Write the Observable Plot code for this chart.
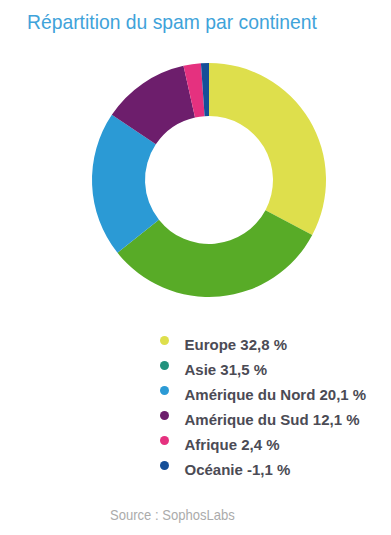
<!DOCTYPE html>
<html><head><meta charset="utf-8">
<script src="https://cdn.jsdelivr.net/npm/d3@7"></script>
<script src="https://cdn.jsdelivr.net/npm/@observablehq/plot@0.6"></script>
<style>
body{margin:0;background:#fff;}
#wrap{position:relative;width:391px;height:535px;overflow:hidden;font-family:"Liberation Sans",Arial,sans-serif;}
#title{position:absolute;left:27px;top:9px;font-size:21px;line-height:26px;color:#3fa3da;white-space:nowrap;transform:scaleX(0.92);transform-origin:0 0;}
#donut{position:absolute;left:0;top:55px;}
#legend{position:absolute;left:0;top:320px;}
#source{position:absolute;left:110px;top:506px;font-size:15px;line-height:18px;color:#ababab;white-space:nowrap;transform:scaleX(0.87);transform-origin:0 0;}
</style></head><body>
<div id="wrap">
<div id="title">Répartition du spam par continent</div>
<div id="donut"></div>
<div id="legend"></div>
<div id="source">Source : SophosLabs</div>
</div>
<script>
const continents = ["Europe","Asie","Amérique du Nord","Amérique du Sud","Afrique","Océanie"];
const shares = [32.8, 31.5, 20.1, 12.1, 2.4, -1.1];
const sliceColors = ["#dedf4c","#58ab27","#2b9ad5","#6d1e6c","#e5317f","#164f98"];
const legendColors = ["#dedf4c","#22927d","#2b9ad5","#6d1e6c","#e5317f","#164f98"];
const innerRatio = 0.547;

const rows = continents.map((c, i) => ({
  continent: c,
  share: shares[i],
  slice: sliceColors[i],
  key: legendColors[i],
  label: `${c} ${shares[i].toFixed(1).replace(".", ",")} %`
}));

const arcs = d3.pie().sort(null).value(d => Math.abs(d.share))(rows);

function donut(index, scales) {
  const cx = scales.x(0), cy = scales.y(0);
  const R = scales.x(1) - cx;
  const arc = d3.arc().innerRadius(R * innerRatio).outerRadius(R);
  const g = d3.create("svg:g").attr("transform", `translate(${cx},${cy})`);
  g.selectAll("path").data(arcs).join("path").attr("d", arc).attr("fill", d => d.data.slice);
  return g.node();
}

const donutPlot = Plot.plot({
  width: 391, height: 250,
  margin: 0,
  x: {domain: [-1, 1], range: [92, 326], axis: null},
  y: {domain: [-1, 1], range: [242, 8], axis: null},
  marks: [
    Plot.dot([{x: 0, y: 0}], {x: "x", y: "y", r: 0}),
    donut
  ]
});
document.getElementById("donut").append(donutPlot);

const legendPlot = Plot.plot({
  width: 391, height: 165,
  margin: 0,
  x: {domain: [0, 1], range: [164, 184], axis: null},
  y: {type: "point", domain: continents, range: [17.5, 146.5], padding: 0, axis: null},
  color: {type: "identity"},
  style: {fontFamily: '"Liberation Sans",Arial,sans-serif'},
  marks: [
    Plot.dot(rows, {x: () => 0, y: "continent", r: 4.5, fill: "key", stroke: null}),
    Plot.text(rows, {x: () => 1, y: "continent", text: "label", textAnchor: "start", dy: 5,
      fontSize: 15, fontWeight: "bold", fill: "#4b4b55"})
  ]
});
document.getElementById("legend").append(legendPlot);
</script>
</body></html>
